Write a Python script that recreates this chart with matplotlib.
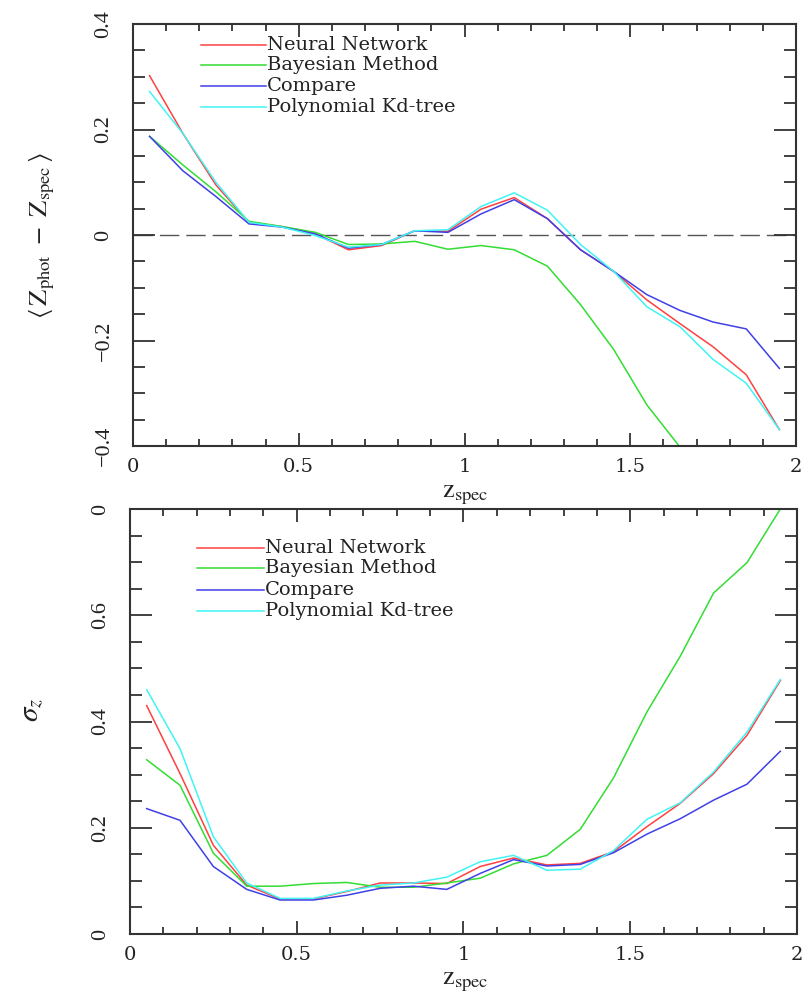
import matplotlib
matplotlib.use("Agg")
import matplotlib.pyplot as plt
from matplotlib.ticker import MultipleLocator, FixedLocator, FixedFormatter

plt.rcParams['mathtext.fontset'] = 'stix'
plt.rcParams['font.family'] = ['Liberation Serif', 'DejaVu Serif']

# redshift bin centres
z_spec = [0.05, 0.15, 0.25, 0.35, 0.45, 0.55, 0.65, 0.75, 0.85, 0.95,
          1.05, 1.15, 1.25, 1.35, 1.45, 1.55, 1.65, 1.75, 1.85, 1.95]

# mean offset <z_phot - z_spec>
bias_nn = [0.302, 0.193, 0.095, 0.024, 0.016, 0.002, -0.028, -0.020, 0.008, 0.007,
           0.049, 0.071, 0.031, -0.028, -0.069, -0.123, -0.168, -0.212, -0.265, -0.369]
bias_bayes_z = z_spec[:17]
bias_bayes = [0.187, 0.133, 0.082, 0.026, 0.016, 0.005, -0.018, -0.017, -0.012, -0.027,
              -0.020, -0.028, -0.059, -0.132, -0.217, -0.322, -0.402]
bias_cmp = [0.187, 0.122, 0.073, 0.021, 0.015, 0.002, -0.025, -0.018, 0.008, 0.005,
            0.040, 0.067, 0.031, -0.028, -0.069, -0.113, -0.143, -0.165, -0.178, -0.253]
bias_kd = [0.272, 0.193, 0.100, 0.024, 0.015, -0.001, -0.023, -0.018, 0.008, 0.010,
           0.054, 0.080, 0.047, -0.018, -0.069, -0.136, -0.174, -0.236, -0.281, -0.369]

# scatter sigma_z
sig_nn = [0.430, 0.302, 0.167, 0.092, 0.066, 0.066, 0.080, 0.096, 0.096, 0.095,
          0.127, 0.143, 0.130, 0.133, 0.155, 0.202, 0.246, 0.302, 0.374, 0.477]
sig_bayes = [0.328, 0.280, 0.152, 0.090, 0.090, 0.095, 0.097, 0.088, 0.088, 0.096,
             0.105, 0.132, 0.148, 0.197, 0.294, 0.418, 0.523, 0.642, 0.699, 0.800]
sig_cmp = [0.236, 0.214, 0.127, 0.084, 0.064, 0.064, 0.073, 0.086, 0.090, 0.084,
           0.114, 0.140, 0.128, 0.131, 0.153, 0.188, 0.217, 0.252, 0.282, 0.344]
sig_kd = [0.460, 0.349, 0.183, 0.096, 0.067, 0.067, 0.081, 0.092, 0.096, 0.107,
          0.136, 0.148, 0.120, 0.122, 0.157, 0.216, 0.247, 0.305, 0.380, 0.479]

method_names = ['Neural Network', 'Bayesian Method', 'Compare', 'Polynomial Kd-tree']
method_colors = ['#ff4040', '#33dd33', '#4040e8', '#40f4f4']

top_yticks = [-0.4, -0.2, 0.0, 0.2, 0.4]
top_ylabels = ['\u22120.4', '\u22120.2', '0', '0.2', '0.4']
bot_yticks = [0.0, 0.2, 0.4, 0.6, 0.8]
bot_ylabels = ['0', '0.2', '0.4', '0.6', '0']
xticks = [0, 0.5, 1, 1.5, 2]
xlabels = ['0', '0.5', '1', '1.5', '2']

W, H = 810, 998
fig = plt.figure(figsize=(W / 100, H / 100), dpi=100)


def frac(x0, y0, x1, y1):
    return [x0 / W, 1 - y1 / H, (x1 - x0) / W, (y1 - y0) / H]


ax1 = fig.add_axes(frac(133, 24, 796, 446))
ax2 = fig.add_axes(frac(130, 509, 797, 934))

frame = '#333333'
ink = '#222222'
for ax, yt, yl, ylim in [(ax1, top_yticks, top_ylabels, (-0.4, 0.4)),
                         (ax2, bot_yticks, bot_ylabels, (0.0, 0.8))]:
    ax.set_xlim(0, 2)
    ax.set_ylim(*ylim)
    ax.xaxis.set_major_locator(FixedLocator(xticks))
    ax.xaxis.set_major_formatter(FixedFormatter(xlabels))
    ax.xaxis.set_minor_locator(MultipleLocator(0.1))
    ax.yaxis.set_major_locator(FixedLocator(yt))
    ax.yaxis.set_major_formatter(FixedFormatter(yl))
    ax.yaxis.set_minor_locator(MultipleLocator(0.05))
    ax.tick_params(which='both', direction='in', top=True, right=True,
                   color=frame, width=1.3, labelcolor=ink)
    ax.tick_params(axis='x', which='major', length=9.5, pad=9, labelsize=14)
    ax.tick_params(axis='x', which='minor', length=5)
    ax.tick_params(axis='y', which='major', length=16, pad=14, labelsize=16)
    ax.tick_params(axis='y', which='minor', length=8.5)
    for lab in ax.get_xticklabels():
        lab.set_fontfamily('DejaVu Serif')
    for lab in ax.get_yticklabels():
        lab.set_rotation(90)
        lab.set_va('center')
    for sp in ax.spines.values():
        sp.set_color(frame)
        sp.set_linewidth(1.5)

# upper panel: mean offset
ax1.axhline(0, color='#555555', lw=1.0, dashes=(14, 5), zorder=1)
ax1.plot(z_spec, bias_nn, color=method_colors[0], lw=1.1)
ax1.plot(bias_bayes_z, bias_bayes, color=method_colors[1], lw=1.1)
ax1.plot(z_spec, bias_cmp, color=method_colors[2], lw=1.1)
ax1.plot(z_spec, bias_kd, color=method_colors[3], lw=1.1)

# lower panel: scatter
ax2.plot(z_spec, sig_nn, color=method_colors[0], lw=1.1)
ax2.plot(z_spec, sig_bayes, color=method_colors[1], lw=1.1)
ax2.plot(z_spec, sig_cmp, color=method_colors[2], lw=1.1)
ax2.plot(z_spec, sig_kd, color=method_colors[3], lw=1.1)


def key(x0, x1, tx, rows):
    for name, color, y in zip(method_names, method_colors, rows):
        fig.add_artist(plt.Line2D([x0 / W, x1 / W], [1 - y / H, 1 - y / H],
                                  color=color, lw=1.1, transform=fig.transFigure))
        fig.text(tx / W, 1 - y / H, name, ha='left', va='center',
                 family='DejaVu Serif', fontsize=14, color=ink)


key(201, 266, 267, [45, 65, 86, 107])
key(197, 264, 265, [548, 568, 590, 611])

# axis titles
fig.text(465 / W, 1 - 495 / H, r'$\mathrm{z_{spec}}$', ha='center', va='center',
         fontsize=19, color=ink)
fig.text(465 / W, 1 - 982 / H, r'$\mathrm{z_{spec}}$', ha='center', va='center',
         fontsize=19, color=ink)
fig.text(42 / W, 1 - 236 / H,
         r'$\langle\,\mathrm{Z_{phot}}\ -\ \mathrm{Z_{spec}}\,\rangle$',
         ha='center', va='center', rotation=90, fontsize=19, color=ink)
fig.text(33 / W, 1 - 710 / H, r'$\sigma_z$', ha='center', va='center',
         rotation=90, fontsize=21, color=ink)

fig.savefig('out.png', dpi=100)
